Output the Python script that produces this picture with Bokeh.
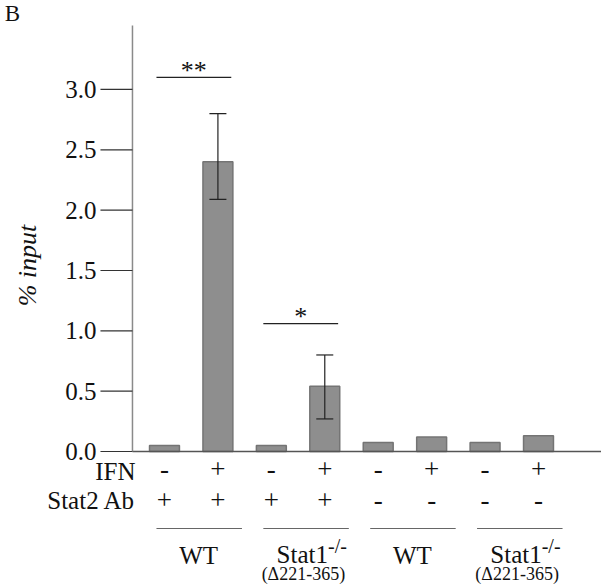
import numpy as np
from bokeh.plotting import figure
from bokeh.models import Range1d, Whisker, ColumnDataSource, TeeHead
from bokeh.core.properties import value
from bokeh.embed import file_html
from bokeh.resources import INLINE

# ---------------- data ----------------
ifn_treatment = ["-", "+", "-", "+", "-", "+", "-", "+"]
stat2_antibody = ["+", "+", "+", "+", "-", "-", "-", "-"]
pct_input = [0.05, 2.40, 0.05, 0.54, 0.075, 0.12, 0.075, 0.13]
err_lower = [np.nan, 2.09, np.nan, 0.27, np.nan, np.nan, np.nan, np.nan]
err_upper = [np.nan, 2.80, np.nan, 0.80, np.nan, np.nan, np.nan, np.nan]
group_names = ["WT", "Stat1", "WT", "Stat1"]
group_sup = ["", "-/-", "", "-/-"]
group_sub = ["", "(\u0394221-365)", "", "(\u0394221-365)"]
sig_labels = ["**", "*"]
sig_group = [0, 1]
sig_height = [3.10, 1.06]
y_ticks = [0.0, 0.5, 1.0, 1.5, 2.0, 2.5, 3.0]
y_axis_top = 3.53

SERIF = value("Liberation Serif")
INK = "#111111"

x_idx = np.arange(len(pct_input))
X_MIN, X_MAX = -3.069, 8.179
Y_MIN, Y_MAX = -1.135, 3.737
AX_X = -0.599          # position of the value axis
TICK_X0 = -1.198
TICKLAB_X = -1.273

p = figure(width=601, height=588, output_backend="svg", toolbar_location=None,
           x_range=Range1d(X_MIN, X_MAX), y_range=Range1d(Y_MIN, Y_MAX),
           x_axis_location=None, y_axis_location=None,
           min_border_left=0, min_border_right=0, min_border_top=0, min_border_bottom=0)
p.outline_line_color = None
p.xgrid.visible = False
p.ygrid.visible = False
p.background_fill_color = "white"

# bars
src = ColumnDataSource(dict(x=x_idx, top=pct_input))
p.vbar(x="x", top="top", bottom=0, width=0.56, source=src,
       fill_color="#8e8e8e", line_color="#747474", line_width=1.5)

# baseline
p.segment(x0=[AX_X], y0=[0], x1=[X_MAX], y1=[0], line_color="#555555", line_width=1.5)

# value axis (line, ticks, labels, title)
p.segment(x0=[AX_X], y0=[0], x1=[AX_X], y1=[y_axis_top], line_color="#8a8a8a", line_width=1.5)
p.segment(x0=[TICK_X0] * len(y_ticks), y0=y_ticks, x1=[AX_X] * len(y_ticks), y1=y_ticks,
          line_color="#333333", line_width=1.2)
p.text(x=[TICKLAB_X] * len(y_ticks), y=y_ticks, text=[f"{t:.1f}" for t in y_ticks],
       text_align="right", text_baseline="middle", text_font=SERIF,
       text_font_size="25px", text_color=INK)
p.text(x=[-2.564], y=[1.541], text=["% input"], angle=np.pi / 2, text_align="center",
       text_baseline="middle", text_font=SERIF, text_font_style="italic",
       text_font_size="26px", text_color=INK)

# error bars
lo = np.array(err_lower); hi = np.array(err_upper)
m = ~np.isnan(lo)
esrc = ColumnDataSource(dict(x=x_idx[m], lower=lo[m], upper=hi[m]))
w = Whisker(base="x", lower="lower", upper="upper", source=esrc, dimension="height",
            line_color="#222222", line_width=1.2, level="overlay",
            upper_head=TeeHead(size=17, line_color="#222222", line_width=1.2),
            lower_head=TeeHead(size=17, line_color="#222222", line_width=1.2))
p.add_layout(w)

# significance brackets
for lab, g, h in zip(sig_labels, sig_group, sig_height):
    first = 2 * g
    x0, x1 = first - 0.15, first + 1 + 0.25
    p.segment(x0=[x0], y0=[h], x1=[x1], y1=[h], line_color="#222222", line_width=1.2)
    p.text(x=[(x0 + x1) / 2], y=[h + 0.058], text=[lab], text_align="center",
           text_baseline="middle", text_font=SERIF, text_font_size="26px",
           text_color=INK)

# condition rows
SIGN_Y = (-0.146, -0.403)
LABEL_Y = (-0.166, -0.406)
for vals, yy in zip((ifn_treatment, stat2_antibody), SIGN_Y):
    p.text(x=x_idx, y=[yy] * len(x_idx), text=vals, text_align="center",
           text_baseline="middle", text_font=SERIF, text_font_size="27px",
           text_color=INK)
p.text(x=[-0.543, -0.543], y=list(LABEL_Y), text=["IFN", "Stat2 Ab"], text_align="right",
       text_baseline="middle", text_font=SERIF, text_font_size="25px", text_color=INK)

# group lines and labels
for gi, (name, sup, sub) in enumerate(zip(group_names, group_sup, group_sub)):
    c = 2 * gi + 0.5
    p.segment(x0=[c + 0.15 - 0.8], y0=[-0.638], x1=[c + 0.15 + 0.8], y1=[-0.638],
              line_color="#666666", line_width=1.2)
    if sup:
        p.text(x=[c + 0.56], y=[-0.856], text=[name], text_align="right",
               text_baseline="middle", text_font=SERIF, text_font_size="25px",
               text_color=INK)
        p.text(x=[c + 0.56], y=[-0.779], text=[sup], text_align="left",
               text_baseline="middle", text_font=SERIF, text_font_size="20px",
               text_color=INK)
        p.text(x=[c + 0.1], y=[-1.017], text=[sub], text_align="center",
               text_baseline="middle", text_font=SERIF, text_font_size="18px",
               text_color=INK)
    else:
        p.text(x=[c + 0.14], y=[-0.862], text=[name], text_align="center",
               text_baseline="middle", text_font=SERIF, text_font_size="25px",
               text_color=INK)

# panel letter
p.text(x=[-2.99], y=[3.63], text=["B"], text_align="left", text_baseline="middle",
       text_font=SERIF, text_font_size="23px", text_color=INK)

open("out.html", "w").write(file_html(p, INLINE))
